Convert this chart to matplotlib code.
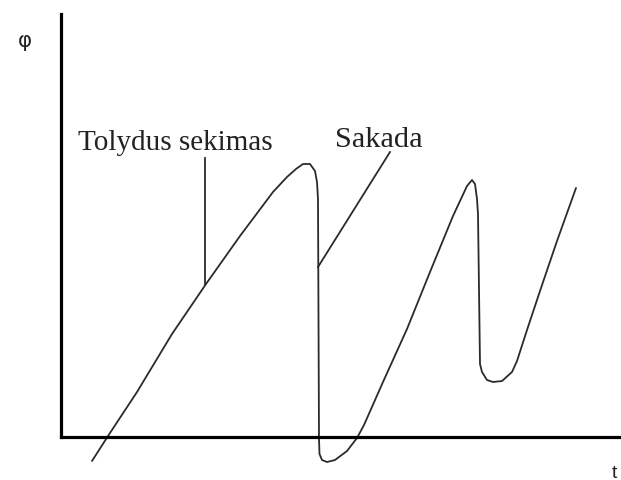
import matplotlib
matplotlib.use("Agg")
import matplotlib.pyplot as plt

# Eye-position trace: smooth pursuit ramps interrupted by saccadic resets
t_trace = [31, 47, 76, 111, 145, 179, 212, 226, 235, 242, 249, 254, 256, 257,
           258, 258.5, 261, 266, 274, 286, 296, 303, 322, 346, 369, 392, 406, 411, 414,
           416, 417, 419, 421, 426, 432, 441, 451, 456, 466, 479, 496, 515]
phi_trace = [-24, 1, 45, 103, 153, 201, 245, 260, 268, 273, 273, 266, 255, 238,
             -2, -17, -23, -25, -23, -14, -1, 12, 55, 108, 165, 221, 251, 257, 253,
             238, 223, 73, 65, 57, 55, 56, 65, 76, 107, 146, 196, 249]

# Annotation leader lines (start, end)
pursuit_leader_t = [144, 144]
pursuit_leader_phi = [279, 152]
saccade_leader_t = [329, 257]
saccade_leader_phi = [285, 170]

label_pursuit = "Tolydus sekimas"
label_saccade = "Sakada"
axis_label_y = "φ"
axis_label_x = "t"

fig = plt.figure(figsize=(6.21, 4.81), dpi=100)
ax = fig.add_axes([0, 0, 1, 1])
ax.set_xlim(-61, 560)
ax.set_ylim(-43, 438)

line_color = "#2b2b2b"
ax.plot(t_trace, phi_trace, color=line_color, lw=1.3, solid_joinstyle="round",
        solid_capstyle="round", clip_on=False)
ax.plot(pursuit_leader_t, pursuit_leader_phi, color=line_color, lw=1.3)
ax.plot(saccade_leader_t, saccade_leader_phi, color=line_color, lw=1.3)

# Axes drawn as heavy spines meeting at the origin
for side in ("top", "right"):
    ax.spines[side].set_visible(False)
ax.spines["left"].set_position(("data", 0))
ax.spines["bottom"].set_position(("data", 0))
ax.spines["left"].set_bounds(0, 423)
ax.spines["bottom"].set_bounds(0, 560)
for side in ("left", "bottom"):
    ax.spines[side].set_linewidth(2.3)
    ax.spines[side].set_color("black")
ax.set_xticks([])
ax.set_yticks([])
ax.patch.set_visible(False)

serif = ["Liberation Serif", "DejaVu Serif"]
ax.text(17, 288, label_pursuit, family=serif, fontsize=21, color="#222222",
        ha="left", va="baseline")
ax.text(274, 291, label_saccade, family=serif, fontsize=21.8, color="#222222",
        ha="left", va="baseline")
ax.text(-36, 397, axis_label_y, family=["DejaVu Sans"], fontsize=15.5,
        color="#222222", ha="center", va="center")
ax.text(553, -40, axis_label_x, family=["Liberation Sans", "DejaVu Sans"], fontsize=14,
        color="#222222", ha="center", va="baseline")

fig.savefig("out.png", dpi=100, facecolor="white")
